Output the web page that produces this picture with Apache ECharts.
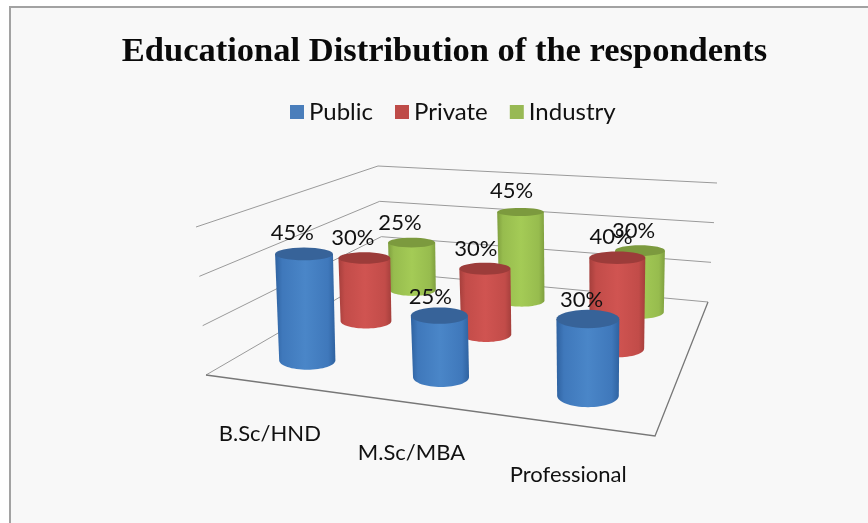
<!DOCTYPE html>
<html>
<head>
<meta charset="utf-8">
<title>Educational Distribution of the respondents</title>
<style>
  html, body { margin: 0; padding: 0; background: #fff; }
  #panel { position: absolute; left: 9px; top: 6px; width: 859px; height: 517px;
           box-sizing: border-box; background: #f8f8f8;
           border-left: 2px solid #a2a2a2; border-top: 2px solid #a2a2a2; }
  #main_container { position: absolute; left: 0; top: 0; width: 868px; height: 523px; }
</style>
<script src="https://cdn.jsdelivr.net/npm/echarts@6/dist/echarts.min.js"></script>
</head>
<body>
<div id="panel"></div>
<div id="main_container"></div>
<script>
var categories = ["B.Sc/HND", "M.Sc/MBA", "Professional"];
var seriesNames = ["Public", "Private", "Industry"];
var publicValues = [45, 25, 30];
var privateValues = [30, 30, 40];
var industryValues = [25, 45, 30];
var gridTicks = [0, 20, 40, 60];

var uiFont = 'Lato, "Noto Sans", sans-serif';

// the view: corners of the floor and of the box top, order front-left, front-right, back-right, back-left
var floorQuad = [[206, 375], [655, 436], [708, 302], [383, 272]];
var topQuad = [[196, 227], [663, 270], [717, 183], [378, 166]];

// unit square -> quad
function homography(q) {
  var dx1 = q[1][0] - q[2][0], dx2 = q[3][0] - q[2][0], sx = q[0][0] - q[1][0] + q[2][0] - q[3][0];
  var dy1 = q[1][1] - q[2][1], dy2 = q[3][1] - q[2][1], sy = q[0][1] - q[1][1] + q[2][1] - q[3][1];
  var d = dx1 * dy2 - dx2 * dy1;
  var g = (sx * dy2 - dx2 * sy) / d, h = (dx1 * sy - sx * dy1) / d;
  var a = q[1][0] - q[0][0] + g * q[1][0], b = q[3][0] - q[0][0] + h * q[3][0], c = q[0][0];
  var e = q[1][1] - q[0][1] + g * q[1][1], f = q[3][1] - q[0][1] + h * q[3][1], k = q[0][1];
  return function (u, v) {
    var w = g * u + h * v + 1;
    return [(a * u + b * v + c) / w, (e * u + f * v + k) / w];
  };
}
var floorAt = homography(floorQuad);
var topAt = homography(topQuad);

// u, v across and into the floor, h up the value axis, all 0..1
function project(u, v, h) {
  var p = floorAt(u, v), t = topAt(u, v);
  return [p[0] + (t[0] - p[0]) * h, p[1] + (t[1] - p[1]) * h];
}

function axisFractions(api, params, cat, value) {
  var r = params.coordSys;
  var c = api.coord([cat, value]);
  return { u: (c[0] - r.x) / r.width, h: (r.y + r.height - c[1]) / r.height };
}

function ellipsePoints(c, rx, ry, from, to) {
  var pts = [];
  for (var i = 0; i <= 32; i++) {
    var a = from + (to - from) * i / 32;
    pts.push([c[0] + rx * Math.cos(a), c[1] + ry * Math.sin(a)]);
  }
  return pts;
}

// discs look flatter the higher they sit on screen
function flatness(y) {
  return 0.17 + (y - 209) * 0.0011;
}

function cylinderItem(depthIndex, tones) {
  return function (params, api) {
    var f = axisFractions(api, params, api.value(0), api.value(1));
    var v = (depthIndex + 0.5) / seriesNames.length;
    var du = 0.2 / categories.length;
    var base = project(f.u, v, 0);
    var raised = project(f.u, v, f.h);
    // columns stand almost upright, the box walls lean more
    var top = [base[0] + (raised[0] - base[0]) * 0.4, raised[1]];
    var rxBase = (floorAt(f.u + du, v)[0] - floorAt(f.u - du, v)[0]) / 2;
    rxBase *= 1 + 0.3 * Math.max(0, 0.5 - f.u);
    var rxTop = rxBase * (1 + 0.04 * f.h);
    var ryBase = rxBase * flatness(base[1]);
    var ryTop = rxTop * flatness(top[1]);
    var outline = [[top[0] - rxTop, top[1]], [top[0] + rxTop, top[1]]]
      .concat(ellipsePoints(base, rxBase, ryBase, 0, Math.PI));
    return {
      type: "group",
      children: [
        {
          type: "polygon",
          shape: { points: outline },
          style: {
            fill: new echarts.graphic.LinearGradient(0, 0, 1, 0, [
              { offset: 0, color: tones.edge },
              { offset: 0.12, color: tones.body },
              { offset: 0.5, color: tones.light },
              { offset: 0.88, color: tones.body },
              { offset: 1, color: tones.edge },
            ]),
          },
        },
        {
          type: "polygon",
          shape: { points: ellipsePoints(top, rxTop, ryTop, 0, Math.PI * 2) },
          style: { fill: tones.cap },
        },
        {
          type: "text",
          z2: 50,
          style: {
            text: api.value(1) + "%",
            x: top[0] - 13 + 8 * f.u,
            y: top[1] - ryTop - 17 + 0.06 * (top[1] - 209),
            align: "center",
            verticalAlign: "middle",
            fill: "#111",
            font: "22px " + uiFont,
          },
        },
      ],
    };
  };
}

var tones = [
  { edge: "#2f62a0", body: "#3f78bb", light: "#4a86c8", cap: "#376399", legend: "#4a7ebb" },
  { edge: "#a53f3c", body: "#c24c49", light: "#d05451", cap: "#9c3c3a", legend: "#be4b48" },
  { edge: "#7f9f3f", body: "#97bc4e", light: "#a4cb56", cap: "#7c9a3e", legend: "#98b954" },
];
var valueRows = [publicValues, privateValues, industryValues];

function cylinderSeries(depthIndex) {
  return {
    name: seriesNames[depthIndex],
    type: "custom",
    z: 10 - depthIndex,
    renderItem: cylinderItem(depthIndex, tones[depthIndex]),
    itemStyle: { color: tones[depthIndex].legend },
    encode: { x: 0, y: 1 },
    data: valueRows[depthIndex].map(function (val, i) { return [i, val]; }),
  };
}

// box grid lines, one polyline a tick: left wall then back wall
var boxSeries = {
  type: "custom",
  z: 1,
  silent: true,
  renderItem: function (params, api) {
    var f = axisFractions(api, params, 0, api.value(1));
    var children = [{
      type: "polyline",
      shape: { points: [project(0, 0, f.h), project(0, 1, f.h), project(1, 1, f.h)] },
      style: { stroke: "#9a9a9a", lineWidth: 1, fill: null },
    }];
    if (f.h === 0) {
      children.push({
        type: "polyline",
        shape: { points: [project(0, 0, 0), project(1, 0, 0), project(1, 1, 0)] },
        style: { stroke: "#777", lineWidth: 1.3, fill: null },
      });
    }
    return { type: "group", children: children };
  },
  encode: { x: 0, y: 1 },
  data: gridTicks.map(function (t) { return [0, t]; }),
};

// category names below the front edge of the floor
var labelSeries = {
  type: "custom",
  z: 1,
  silent: true,
  renderItem: function (params, api) {
    var f = axisFractions(api, params, api.value(0), 0);
    var p = project(f.u, 0, 0);
    return {
      type: "text",
      style: {
        text: categories[api.value(0)],
        x: p[0] - 2,
        y: p[1] + 50,
        align: "center",
        verticalAlign: "middle",
        fill: "#111",
        font: "22px " + uiFont,
      },
    };
  },
  encode: { x: 0, y: 1 },
  data: categories.map(function (c, i) { return [i, 0]; }),
};

var myChart = echarts.init(document.getElementById("main_container"), null, { renderer: "canvas" });
myChart.setOption({
  animation: false,
  backgroundColor: "transparent",
  title: {
    text: "Educational Distribution of the respondents",
    left: 439.5,
    top: 30,
    textAlign: "center",
    textStyle: { fontFamily: '"Liberation Serif", serif', fontWeight: "bold", fontSize: 34.5, color: "#0a0a0a" },
  },
  legend: {
    data: seriesNames,
    left: 285,
    top: 95,
    itemWidth: 14,
    itemHeight: 14,
    itemGap: 22,
    icon: "rect",
    textStyle: { fontFamily: uiFont, fontSize: 24, color: "#111" },
  },
  grid: { left: 0, right: 0, top: 0, bottom: 0 },
  xAxis: { type: "category", data: categories, show: false },
  yAxis: { type: "value", min: 0, max: 60, interval: 20, show: false },
  series: [boxSeries, labelSeries, cylinderSeries(0), cylinderSeries(1), cylinderSeries(2)],
});
</script>
</body>
</html>
